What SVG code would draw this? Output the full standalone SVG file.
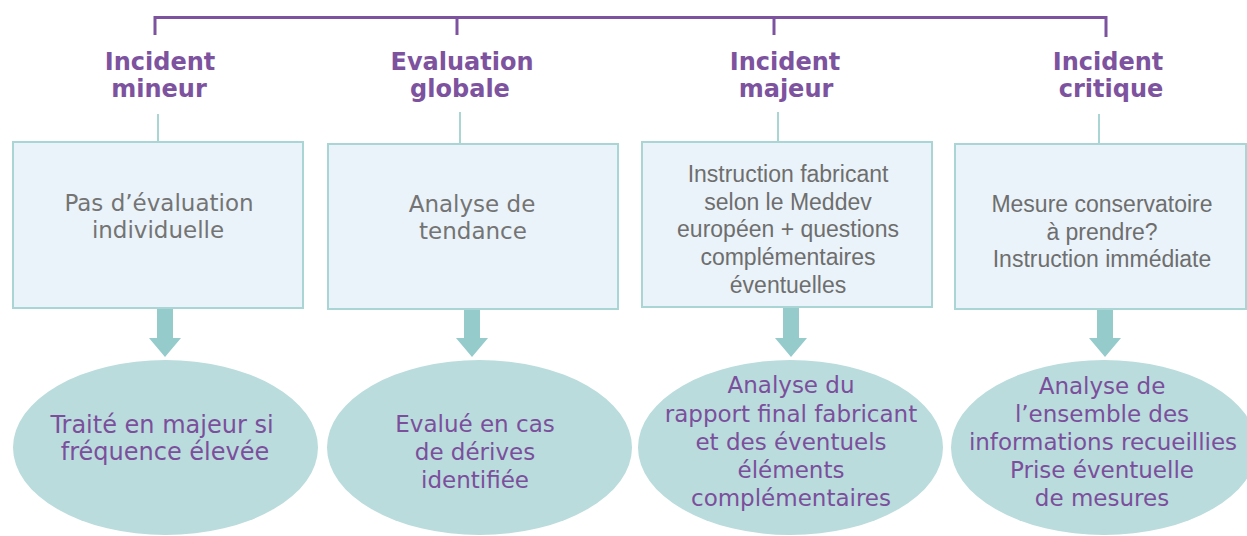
<svg xmlns="http://www.w3.org/2000/svg" width="1247" height="536" viewBox="0 0 1247 536">
<style>
.hd{font-family:"DejaVu Sans",Verdana,sans-serif;font-weight:bold;font-size:24px;fill:#7d529e;text-anchor:middle}
.bx{fill:#eaf3f9;stroke:#a9d5d5;stroke-width:2}
.bt{font-family:"DejaVu Sans",Verdana,sans-serif;font-size:23px;fill:#747474;text-anchor:middle}
.bt2{font-family:"Liberation Sans",Arial,sans-serif;font-size:23px;fill:#6e6e6e;text-anchor:middle}
.el{fill:#badcdc}
.et{font-family:"DejaVu Sans",Verdana,sans-serif;font-size:23px;fill:#7b4f9c;text-anchor:middle}
.br{fill:none;stroke:#7d529e;stroke-width:3}
.tl{stroke:#a9d5d5;stroke-width:2}
.ar{fill:#95cbcb}
</style>
<g id="connectors">
<path class="br" d="M155,35 V17.5 H1106 V37"/>
<line class="br" x1="457" y1="17.5" x2="457" y2="35"/>
<line class="br" x1="774" y1="17.5" x2="774" y2="35"/>
<line class="tl" x1="158" y1="114" x2="158" y2="142"/>
<line class="tl" x1="460" y1="112" x2="460" y2="144"/>
<line class="tl" x1="778" y1="112" x2="778" y2="142"/>
<line class="tl" x1="1099" y1="114" x2="1099" y2="144"/>
<polygon class="ar" points="157,308 173,308 173,338 181,338 165,357 149,338 157,338"/>
<polygon class="ar" points="464,309 480,309 480,338 488,338 472,357 456,338 464,338"/>
<polygon class="ar" points="783,307 799,307 799,338 807,338 791,357 775,338 783,338"/>
<polygon class="ar" points="1097,309 1113,309 1113,338 1121,338 1105,357 1089,338 1097,338"/>
</g>
<g id="h1"><text class="hd" x="160" y="70">Incident</text><text class="hd" x="159" y="97">mineur</text></g>
<g id="h2"><text class="hd" x="462" y="70">Evaluation</text><text class="hd" x="460" y="97">globale</text></g>
<g id="h3"><text class="hd" x="785" y="70">Incident</text><text class="hd" x="786" y="97">majeur</text></g>
<g id="h4"><text class="hd" x="1108" y="70">Incident</text><text class="hd" x="1111" y="97">critique</text></g>
<g id="b1"><rect class="bx" x="13" y="142" width="290" height="166"/><text class="bt" x="159" y="211">Pas d’évaluation</text><text class="bt" x="158" y="238">individuelle</text></g>
<g id="b2"><rect class="bx" x="328" y="144" width="290" height="165"/><text class="bt" x="472" y="212">Analyse de</text><text class="bt" x="473" y="239">tendance</text></g>
<g id="b3"><rect class="bx" x="642" y="142" width="290" height="165"/><text class="bt2" x="788" y="182">Instruction fabricant</text><text class="bt2" x="788" y="210">selon le Meddev</text><text class="bt2" x="788" y="237">européen + questions</text><text class="bt2" x="788" y="265">complémentaires</text><text class="bt2" x="788" y="293">éventuelles</text></g>
<g id="b4"><rect class="bx" x="955" y="144" width="291" height="165"/><text class="bt2" x="1102" y="212">Mesure conservatoire</text><text class="bt2" x="1102" y="240">à prendre?</text><text class="bt2" x="1102" y="267">Instruction immédiate</text></g>
<g id="e1"><ellipse class="el" cx="165.5" cy="447.5" rx="152.5" ry="87.5"/><text class="et" x="162" y="433" style="font-size:24px">Traité en majeur si</text><text class="et" x="165" y="460" style="font-size:24px">fréquence élevée</text></g>
<g id="e2"><ellipse class="el" cx="479.5" cy="447.5" rx="152.5" ry="87.5"/><text class="et" x="475" y="432">Evalué en cas</text><text class="et" x="475" y="460">de dérives</text><text class="et" x="475" y="488">identifiée</text></g>
<g id="e3"><ellipse class="el" cx="790.5" cy="447.5" rx="152.5" ry="87.5"/><text class="et" x="791" y="393">Analyse du</text><text class="et" x="791" y="422">rapport final fabricant</text><text class="et" x="791" y="450">et des éventuels</text><text class="et" x="791" y="478">éléments</text><text class="et" x="791" y="506">complémentaires</text></g>
<g id="e4"><ellipse class="el" cx="1104" cy="447.5" rx="153" ry="87.5"/><text class="et" x="1102" y="394">Analyse de</text><text class="et" x="1102" y="422">l’ensemble des</text><text class="et" x="1103" y="450">informations recueillies</text><text class="et" x="1102" y="478">Prise éventuelle</text><text class="et" x="1102" y="506">de mesures</text></g>
</svg>
